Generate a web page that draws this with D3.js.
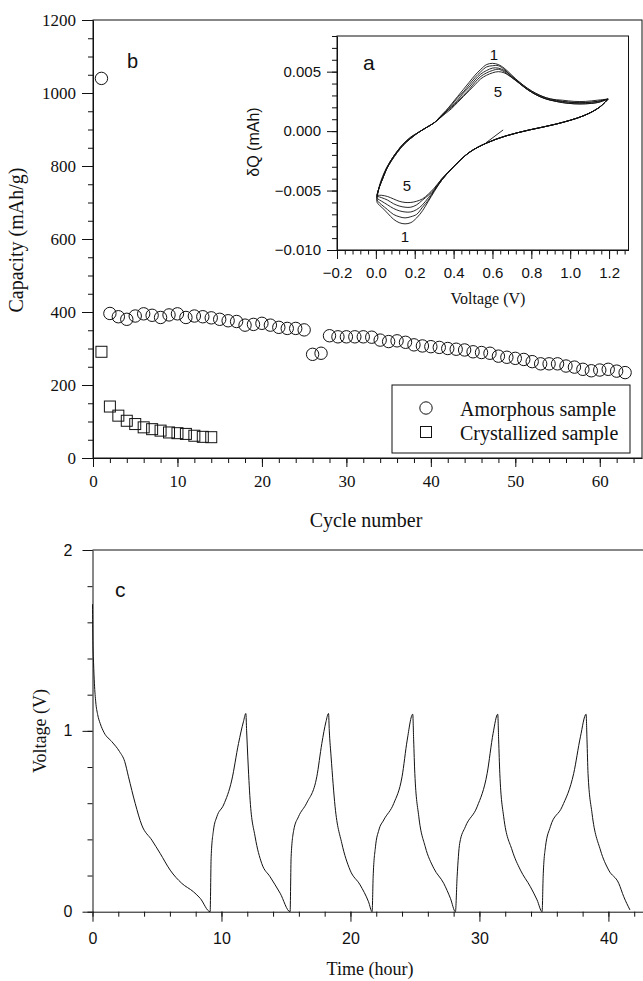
<!DOCTYPE html>
<html>
<head>
<meta charset="utf-8">
<script src="https://cdn.jsdelivr.net/npm/d3@7"></script>
<style>
  body { margin: 0; background: #fff; }
  svg { display: block; }
</style>
</head>
<body>
<div id="chart"></div>
<script>
// ---------- data ----------
// Panel b: capacity per cycle (cycle number = index + 1)
const amorphousCapacity = [1040, 396, 387, 380, 389, 395, 391, 385, 392, 395, 385, 389, 387, 384, 380, 376,
  374, 364, 366, 369, 364, 358, 355, 355, 351, 284, 287, 335, 332, 332, 332, 332, 331, 323, 319, 321, 317,
  310, 307, 305, 303, 300, 298, 296, 291, 289, 287, 279, 276, 273, 270, 264, 258, 258, 258, 252, 249, 243,
  239, 241, 243, 238, 234];
const crystallizedCapacity = [291, 141, 116, 102, 93, 84, 79, 75, 70, 68, 66, 61, 58, 57];
const capacityTicks = [0, 200, 400, 600, 800, 1000, 1200];
const cycleTicks = [0, 10, 20, 30, 40, 50, 60];

// Panel a (inset): dQ vs voltage, cycles 1..5
// upper branch runs from 1.2 V down to 0 V, lower branch back up to 1.2 V
const vUpper = [1.195, 1.14, 1.08, 1.02, 0.96, 0.90, 0.86, 0.82, 0.78, 0.74, 0.70, 0.66, 0.63, 0.60, 0.57,
  0.54, 0.51, 0.48, 0.45, 0.42, 0.39, 0.36, 0.33, 0.30, 0.26, 0.22, 0.18, 0.14, 0.11, 0.08, 0.055, 0.035,
  0.018, 0.008, 0.005];
const dq1Upper = [0.0027, 0.0026, 0.0025, 0.0025, 0.0026, 0.0027, 0.0029, 0.0032, 0.0036, 0.0041, 0.0047,
  0.0053, 0.0056, 0.0057, 0.0056, 0.0052, 0.0047, 0.0041, 0.0035, 0.0029, 0.0023, 0.0017, 0.0012, 0.0007,
  0.0003, -0.0001, -0.0005, -0.0011, -0.0017, -0.0024, -0.0031, -0.0038, -0.0046, -0.0054, -0.0059];
const dq2Upper = [0.0027, 0.0025, 0.0024, 0.0024, 0.0025, 0.0027, 0.0029, 0.0032, 0.0036, 0.0041, 0.0046,
  0.0052, 0.0055, 0.0055, 0.0054, 0.0050, 0.0045, 0.0039, 0.0033, 0.0028, 0.0022, 0.0017, 0.0012, 0.0007,
  0.0003, -0.0001, -0.0005, -0.0011, -0.0017, -0.0024, -0.0031, -0.0039, -0.0047, -0.0053, -0.0057];
const dq3Upper = [0.0027, 0.0025, 0.0024, 0.0024, 0.0025, 0.0026, 0.0028, 0.0031, 0.0035, 0.0040, 0.0046,
  0.0051, 0.0053, 0.0053, 0.0051, 0.0048, 0.0043, 0.0037, 0.0032, 0.0026, 0.0021, 0.0016, 0.0011, 0.0007,
  0.0003, -0.0001, -0.0006, -0.0011, -0.0017, -0.0024, -0.0032, -0.0040, -0.0047, -0.0053, -0.0056];
const dq4Upper = [0.0027, 0.0024, 0.0023, 0.0023, 0.0024, 0.0026, 0.0028, 0.0031, 0.0035, 0.0040, 0.0045,
  0.0050, 0.0052, 0.0051, 0.0049, 0.0046, 0.0041, 0.0035, 0.0030, 0.0025, 0.0020, 0.0016, 0.0011, 0.0007,
  0.0003, -0.0001, -0.0006, -0.0012, -0.0018, -0.0025, -0.0032, -0.0040, -0.0047, -0.0053, -0.0055];
const dq5Upper = [0.0027, 0.0024, 0.0023, 0.0023, 0.0024, 0.0026, 0.0028, 0.0031, 0.0035, 0.0040, 0.0045,
  0.0049, 0.0050, 0.0049, 0.0047, 0.0044, 0.0039, 0.0034, 0.0029, 0.0024, 0.0019, 0.0015, 0.0011, 0.0007,
  0.0003, -0.0001, -0.0006, -0.0012, -0.0018, -0.0025, -0.0032, -0.0040, -0.0047, -0.0052, -0.0054];

const vLower = [0.01, 0.03, 0.06, 0.09, 0.12, 0.15, 0.18, 0.21, 0.24, 0.27, 0.30, 0.34, 0.40, 0.48, 0.57,
  0.67, 0.79, 0.93, 1.07, 1.15, 1.195];
const dq1Lower = [-0.0061, -0.0064, -0.0069, -0.0074, -0.0077, -0.0078, -0.0077, -0.0073, -0.0067, -0.0059,
  -0.0051, -0.0041, -0.0030, -0.0018, -0.0010, -0.0004, 0.0001, 0.0006, 0.0013, 0.0020, 0.0027];
const dq2Lower = [-0.0059, -0.0062, -0.0066, -0.0070, -0.0072, -0.0073, -0.0072, -0.0070, -0.0064, -0.0058,
  -0.0050, -0.0041, -0.0030, -0.0018, -0.0010, -0.0004, 0.0001, 0.0006, 0.0013, 0.0020, 0.0027];
const dq3Lower = [-0.0057, -0.0059, -0.0062, -0.0065, -0.0067, -0.0068, -0.0068, -0.0066, -0.0062, -0.0056,
  -0.0050, -0.0041, -0.0030, -0.0018, -0.0010, -0.0004, 0.0001, 0.0006, 0.0013, 0.0020, 0.0027];
const dq4Lower = [-0.0055, -0.0056, -0.0058, -0.0061, -0.0063, -0.0064, -0.0064, -0.0062, -0.0058, -0.0054,
  -0.0049, -0.0040, -0.0030, -0.0018, -0.0010, -0.0004, 0.0001, 0.0006, 0.0013, 0.0020, 0.0027];
const dq5Lower = [-0.0054, -0.0054, -0.0055, -0.0057, -0.0059, -0.0060, -0.0060, -0.0059, -0.0057, -0.0053,
  -0.0048, -0.0040, -0.0030, -0.0018, -0.0010, -0.0004, 0.0001, 0.0006, 0.0013, 0.0020, 0.0027];
// short starting segment
const tailV = [0.565, 0.655];
const tailDq = [-0.0010, 0.0001];
const insetXTicks = [-0.2, 0.0, 0.2, 0.4, 0.6, 0.8, 1.0, 1.2];
const insetYTicks = [-0.010, -0.005, 0.000, 0.005];

// Panel c: voltage vs time
const timeHours = [0, 0.03, 0.08, 0.15, 0.25, 0.4, 0.6, 0.9, 1.5, 2.1, 2.5, 2.79, 3.31, 3.82, 4.6, 5.24, 6.02,
  6.92, 7.83, 8.35, 9.12,
  9.2, 9.38, 9.64, 10.16, 10.8, 11.32, 11.7, 11.89,
  11.95, 12.04, 12.22, 12.61, 13.12, 13.77, 14.55, 15.32,
  15.4, 15.6, 15.97, 16.6, 17.39, 17.78, 18.1, 18.3,
  18.36, 18.5, 18.81, 19.33, 19.97, 20.75, 21.4, 21.68,
  21.76, 21.94, 22.2, 22.58, 23.36, 24.0, 24.4, 24.83,
  24.9, 24.99, 25.3, 25.8, 26.46, 27.23, 27.75, 28.14,
  28.27, 28.47, 28.91, 29.82, 30.6, 31.06, 31.42,
  31.49, 31.58, 31.88, 32.53, 33.18, 33.95, 34.47, 34.86,
  34.94, 35.12, 35.5, 36.41, 37.31, 37.83, 38.27,
  38.34, 38.42, 38.73, 39.38, 40.02, 40.8, 41.19, 41.67];
const voltage = [1.7, 1.5, 1.38, 1.26, 1.16, 1.09, 1.04, 0.99, 0.94, 0.885, 0.83, 0.746, 0.599, 0.479, 0.396,
  0.323, 0.23, 0.157, 0.11, 0.074, 0.0,
  0.304, 0.451, 0.525, 0.59, 0.728, 0.93, 1.05, 1.096,
  1.0, 0.856, 0.617, 0.414, 0.267, 0.193, 0.102, 0.0,
  0.304, 0.45, 0.525, 0.6, 0.746, 0.93, 1.05, 1.096,
  1.0, 0.856, 0.58, 0.378, 0.23, 0.148, 0.055, 0.0,
  0.193, 0.359, 0.451, 0.507, 0.599, 0.746, 0.949, 1.092,
  0.95, 0.765, 0.525, 0.359, 0.24, 0.157, 0.074, 0.0,
  0.193, 0.378, 0.47, 0.58, 0.765, 0.986, 1.092,
  0.95, 0.765, 0.525, 0.341, 0.23, 0.138, 0.065, 0.0,
  0.193, 0.359, 0.47, 0.58, 0.765, 0.967, 1.092,
  0.95, 0.765, 0.544, 0.341, 0.23, 0.157, 0.083, 0.01];
const voltTicks = [0, 1, 2];
const timeTicks = [0, 10, 20, 30, 40];

// ---------- setup ----------
const SERIF = "'Liberation Serif', 'Times New Roman', serif";
const SANS = "'Liberation Sans', Arial, sans-serif";
const INK = "#111";

const svg = d3.select("#chart").append("svg")
  .attr("width", 643)
  .attr("height", 981);
svg.append("rect").attr("width", 643).attr("height", 981).attr("fill", "#fff");

// draws minor ticks, then major ticks with labels
function drawAxis(axisFn, scale, pos, majors, minors, majorLen, minorLen, pad, fmt, font, size) {
  const gMinor = svg.append("g").attr("transform", pos)
    .call(axisFn(scale).tickValues(minors).tickSize(minorLen).tickFormat(""));
  gMinor.select(".domain").remove();
  const g = svg.append("g").attr("transform", pos)
    .call(axisFn(scale).tickValues(majors).tickSize(majorLen).tickSizeOuter(0).tickPadding(pad).tickFormat(fmt));
  // the axis sets its own font, so override it afterwards
  g.attr("font-family", font).attr("font-size", size);
  svg.selectAll("g .tick line, g .domain").attr("stroke", INK);
  g.selectAll("text").attr("fill", INK);
  return g;
}

// ---------- panel b ----------
const b = { left: 93, right: 642, top: 20, bottom: 458 };
const xB = d3.scaleLinear().domain([0, 65]).range([b.left, b.right]);
const yB = d3.scaleLinear().domain([0, 1200]).range([b.bottom, b.top]);

svg.append("rect")
  .attr("x", b.left).attr("y", b.top)
  .attr("width", b.right - b.left).attr("height", b.bottom - b.top)
  .attr("fill", "none").attr("stroke", INK);

drawAxis(d3.axisBottom, xB, `translate(0,${b.bottom})`, cycleTicks,
  d3.range(0, 66, 2), 9, 5, 8, d3.format("d"), SERIF, 17);
drawAxis(d3.axisLeft, yB, `translate(${b.left},0)`, capacityTicks,
  d3.range(0, 1201, 50), 11, 5, 6, d3.format("d"), SERIF, 17);

// amorphous (circles)
svg.append("g").selectAll("circle")
  .data(amorphousCapacity)
  .enter()
  .append("circle")
  .attr("cx", (d, i) => xB(i + 1))
  .attr("cy", d => yB(d))
  .attr("r", 6.2)
  .attr("fill", "none")
  .attr("stroke", INK)
  .attr("stroke-width", 1);

// crystallized (squares)
const sq = 11;
svg.append("g").selectAll("rect")
  .data(crystallizedCapacity)
  .enter()
  .append("rect")
  .attr("x", (d, i) => xB(i + 1) - sq / 2)
  .attr("y", d => yB(d) - sq / 2)
  .attr("width", sq)
  .attr("height", sq)
  .attr("fill", "none")
  .attr("stroke", INK)
  .attr("stroke-width", 1);

svg.append("text")
  .attr("x", 127).attr("y", 68)
  .style("font-family", SANS).style("font-size", "20px").style("fill", INK)
  .text("b");

svg.append("text")
  .attr("transform", "translate(23,240) rotate(-90)")
  .attr("text-anchor", "middle")
  .style("font-family", SERIF).style("font-size", "20px").style("fill", INK)
  .text("Capacity (mAh/g)");

svg.append("text")
  .attr("x", 366).attr("y", 527)
  .attr("text-anchor", "middle")
  .style("font-family", SERIF).style("font-size", "20px").style("fill", INK)
  .text("Cycle number");

// legend
const legend = svg.append("g");
legend.append("rect")
  .attr("x", 392).attr("y", 385).attr("width", 238).attr("height", 68)
  .attr("fill", "#fff").attr("stroke", INK);
legend.append("circle")
  .attr("cx", 426).attr("cy", 408).attr("r", 6.2)
  .attr("fill", "none").attr("stroke", INK);
legend.append("rect")
  .attr("x", 426 - sq / 2).attr("y", 432 - sq / 2).attr("width", sq).attr("height", sq)
  .attr("fill", "none").attr("stroke", INK);
legend.selectAll("text")
  .data(["Amorphous sample", "Crystallized sample"])
  .enter()
  .append("text")
  .attr("x", 460)
  .attr("y", (d, i) => 415.5 + i * 24)
  .style("font-family", SERIF).style("font-size", "20px").style("fill", INK)
  .text(d => d);

// ---------- inset a ----------
const a = { left: 337, right: 628.5, top: 36, bottom: 250 };
const xA = d3.scaleLinear().domain([-0.2, 1.3]).range([a.left, a.right]);
const yA = d3.scaleLinear().domain([-0.010, 0.008]).range([a.bottom, a.top]);

svg.append("rect")
  .attr("x", a.left).attr("y", a.top)
  .attr("width", a.right - a.left).attr("height", a.bottom - a.top)
  .attr("fill", "#fff").attr("stroke", INK);

drawAxis(d3.axisBottom, xA, `translate(0,${a.bottom})`, insetXTicks,
  d3.range(0, 38).map(i => -0.2 + i * 0.04), 9, 4.5, 8, d3.format(".1f"), SANS, 15);
drawAxis(d3.axisLeft, yA, `translate(${a.left},0)`, insetYTicks,
  d3.range(0, 19).map(i => -0.010 + i * 0.001), 10, 5, 6, d3.format(".3f"), SANS, 15);

const cycleLoops = [
  [dq1Upper, dq1Lower], [dq2Upper, dq2Lower], [dq3Upper, dq3Lower], [dq4Upper, dq4Lower], [dq5Upper, dq5Lower]
];
const loopLine = d3.line()
  .x(d => xA(d[0]))
  .y(d => yA(d[1]))
  .curve(d3.curveCatmullRom.alpha(0.5));

svg.append("g").selectAll("path")
  .data(cycleLoops.map(([up, low]) =>
    vUpper.map((v, i) => [v, up[i]]).concat(vLower.map((v, i) => [v, low[i]]))))
  .enter()
  .append("path")
  .attr("d", loopLine)
  .attr("fill", "none")
  .attr("stroke", INK)
  .attr("stroke-width", 0.9);

svg.append("path")
  .attr("d", loopLine(tailV.map((v, i) => [v, tailDq[i]])))
  .attr("fill", "none").attr("stroke", INK).attr("stroke-width", 0.9);

// cycle labels in the inset
const insetLabels = [
  { t: "1", x: 494, y: 60 }, { t: "5", x: 498, y: 97 },
  { t: "5", x: 407, y: 191 }, { t: "1", x: 405, y: 242 }
];
svg.append("g").selectAll("text")
  .data(insetLabels)
  .enter()
  .append("text")
  .attr("x", d => d.x).attr("y", d => d.y)
  .attr("text-anchor", "middle")
  .style("font-family", SANS).style("font-size", "15px").style("fill", INK)
  .text(d => d.t);

svg.append("text")
  .attr("x", 363).attr("y", 70)
  .style("font-family", SANS).style("font-size", "21px").style("fill", INK)
  .text("a");

svg.append("text")
  .attr("transform", "translate(259,142) rotate(-90)")
  .attr("text-anchor", "middle")
  .style("font-family", SANS).style("font-size", "16px").style("fill", INK)
  .text("\u03B4Q (mAh)");

svg.append("text")
  .attr("x", 488).attr("y", 304)
  .attr("text-anchor", "middle")
  .style("font-family", SERIF).style("font-size", "16px").style("fill", INK)
  .text("Voltage (V)");

// ---------- panel c ----------
const c = { left: 92.5, right: 660, top: 550, bottom: 911.7 };
const xC = d3.scaleLinear().domain([0, 44]).range([c.left, c.right]);
const yC = d3.scaleLinear().domain([0, 2]).range([c.bottom, c.top]);

svg.append("line")
  .attr("x1", c.left).attr("x2", 643)
  .attr("y1", c.top).attr("y2", c.top)
  .attr("stroke", INK);

drawAxis(d3.axisBottom, xC, `translate(0,${c.bottom})`, timeTicks,
  d3.range(0, 45, 2), 10, 5, 11, d3.format("d"), SANS, 16);
drawAxis(d3.axisLeft, yC, `translate(${c.left},0)`, voltTicks,
  d3.range(0, 2.01, 0.2), 10, 5, 10, d3.format("d"), SANS, 16);

const voltLine = d3.line()
  .x(d => xC(d[0]))
  .y(d => yC(d[1]))
  .curve(d3.curveMonotoneX);

svg.append("path")
  .attr("d", voltLine(timeHours.map((t, i) => [t, voltage[i]])))
  .attr("fill", "none")
  .attr("stroke", INK)
  .attr("stroke-width", 1);

svg.append("text")
  .attr("x", 115).attr("y", 597)
  .style("font-family", SANS).style("font-size", "21px").style("fill", INK)
  .text("c");

svg.append("text")
  .attr("transform", "translate(46,731) rotate(-90)")
  .attr("text-anchor", "middle")
  .style("font-family", SERIF).style("font-size", "18px").style("fill", INK)
  .text("Voltage (V)");

svg.append("text")
  .attr("x", 370).attr("y", 975)
  .attr("text-anchor", "middle")
  .style("font-family", SERIF).style("font-size", "18px").style("fill", INK)
  .text("Time (hour)");
</script>
</body>
</html>
